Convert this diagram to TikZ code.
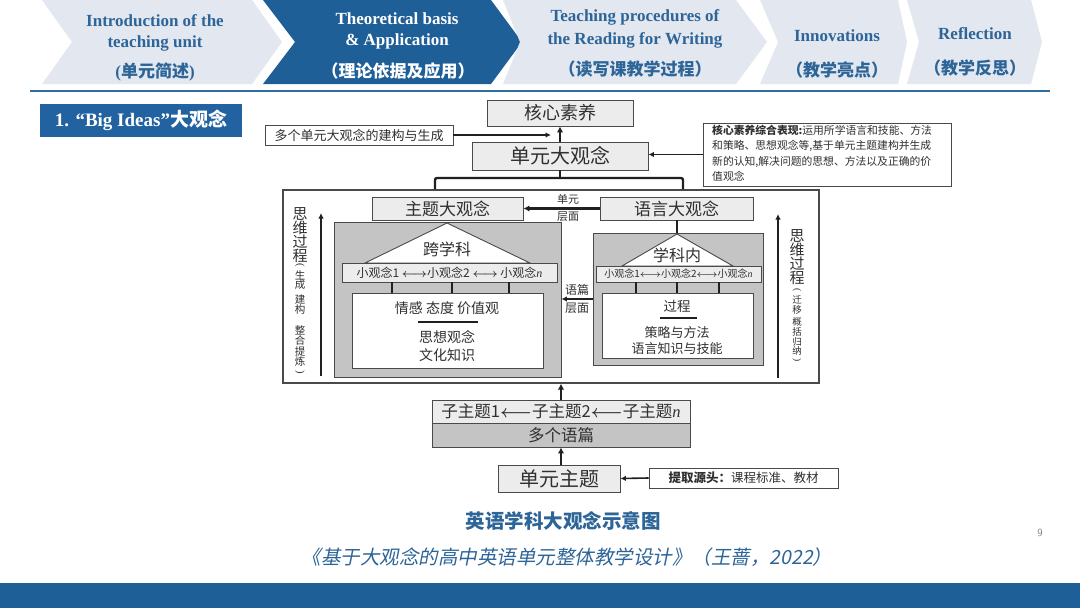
\documentclass[tikz,border=0pt]{standalone}
\usepackage{amsmath}
\usepackage{fontspec}
\setmainfont{Liberation Serif}
\newfontfamily\cjk{Noto Sans CJK SC}
\newfontfamily\cjkit{Noto Sans CJK SC}[FakeSlant=0.2]
\usetikzlibrary{arrows.meta}
\definecolor{hdrlight}{HTML}{E3E7EF}
\definecolor{hdrdark}{HTML}{1F5F98}
\definecolor{hdrtext}{HTML}{2D6598}
\definecolor{rulecol}{HTML}{2F6CA0}
\definecolor{barblue}{HTML}{1F5F98}
\definecolor{lblue}{HTML}{2262A0}
\definecolor{bord}{HTML}{4A4A4A}
\definecolor{lfill}{HTML}{ECECEC}
\definecolor{gfill}{HTML}{C4C4C4}
\definecolor{txt}{HTML}{303030}
\definecolor{dk}{HTML}{202020}
\newcommand\fsz[2]{\fontsize{#1pt}{#2pt}\selectfont}
\newcommand\chev[5]{\fill[#5] (#1,0) -- (#3,0) -- ({#3+#4},42) -- (#3,84) -- (#1,84) -- ({#1+#2},42) -- cycle;}
\tikzset{
  lbox/.style={draw=bord, fill=lfill, line width=0.9pt, inner sep=0pt, text=txt},
  gbox/.style={draw=bord, fill=gfill, line width=0.9pt, inner sep=0pt, text=txt},
  wbox/.style={draw=bord, fill=white, line width=0.9pt, inner sep=0pt, text=txt},
  arr/.style={draw=dk, line width=2.2pt, -{Latex[length=6pt,width=6.5pt]}},
  thinarr/.style={draw=dk, line width=1.6pt, -{Latex[length=5.5pt,width=5.5pt]}},
  conn/.style={draw=dk, line width=1.3pt},
  lbl/.style={inner sep=0pt, text=txt},
  hlight/.style={inner sep=0pt, text=hdrtext, font=\fsz{17}{22}\bfseries, align=center},
  hdark/.style={inner sep=0pt, text=white, font=\fsz{17}{22}\bfseries, align=center},
  vbig/.style={inner sep=0pt, text=txt, font=\fsz{15}{15}\cjk},
  vsmall/.style={inner sep=0pt, text=txt, font=\fsz{10.5}{10.5}\cjk},
}
\begin{document}
\begin{tikzpicture}[x=1pt,y=-1pt]
\useasboundingbox (0,0) rectangle (1080,608);
\fill[white] (0,0) rectangle (1080,608);
% ---------- header ----------
\chev{42}{30}{252}{30}{hdrlight}
\chev{263}{32}{491}{31}{hdrdark}
\chev{503}{17}{736}{31}{hdrlight}
\chev{760}{18}{898}{9}{hdrlight}
\chev{907}{12}{1031}{11}{hdrlight}
\node[hlight] (h1a) at (155,21) {Introduction of the};
\node[hlight] (h1b) at (155,43) {teaching unit};
\node[hlight] (h1c) at (155,72) {(\cjk 单元简述\rmfamily)};
\node[hdark] (h2a) at (397,19) {Theoretical basis};
\node[hdark] (h2b) at (397,41) {\& Application};
\node[hdark] (h2c) at (398,71) {\cjk （理论依据及应用）};
\node[hlight] (h3a) at (635,17) {Teaching procedures of};
\node[hlight] (h3b) at (635,40) {the Reading for Writing};
\node[hlight] (h3c) at (635,69) {\cjk （读写课教学过程）};
\node[hlight] (h4a) at (837,36) {Innovations};
\node[hlight] (h4b) at (837,70) {\cjk （教学亮点）};
\node[hlight] (h5a) at (975,34) {Reflection};
\node[hlight] (h5b) at (975,68) {\cjk （教学反思）};
\draw[rulecol, line width=2.5pt] (30,91) -- (1050,91);
% ---------- section label ----------
\node[fill=lblue, minimum width=202, minimum height=33, inner sep=0pt, text=white, font=\fsz{19}{22}\bfseries] (bigideas) at (141,120.5) {1. “Big Ideas”{\cjk 大观念}};
% ---------- top part of diagram ----------
\node[lbox, minimum width=146, minimum height=26, font=\fsz{18}{20}\cjk] (hxsy) at (560,113) {核心素养};
\node[wbox, minimum width=188, minimum height=20, font=\fsz{13}{15}\cjk] (dyg) at (359,135) {多个单元大观念的建构与生成};
\node[lbox, minimum width=176, minimum height=28, font=\fsz{20}{22}\cjk] (dydgn) at (560,156) {单元大观念};
\node[wbox, minimum width=248, minimum height=63] (info) at (827,154.5) {};
\node[lbl, anchor=north west, align=left, font=\fsz{10.8}{15.3}\cjk] (infotxt) at (712,125) {{\bfseries 核心素养综合表现:}运用所学语言和技能、方法\\和策略、思想观念等,基于单元主题建构并生成\\新的认知,解决问题的思想、方法以及正确的价\\值观念};
\coordinate (dygend) at (551,135);
\draw[thinarr] (dyg.east) -- (dygend);
\draw[arr] (dydgn.north) -- (hxsy.south);
\draw[thinarr] (info.west) -- (info.west -| dydgn.east);
% ---------- outer box ----------
\node[draw=bord, fill=white, line width=1.3pt, minimum width=536, minimum height=193, inner sep=0pt] (outer) at (551,286.5) {};
\coordinate (bl) at (435,178);
\coordinate (br) at (683,178);
\draw[dk, line width=2.4pt] (dydgn.south) -- (dydgn.south |- bl);
\draw[dk, line width=2.4pt, rounded corners=2pt] (bl |- outer.north) -- (bl) -- (br) -- (br |- outer.north);
% ---------- left (主题) ----------
\node[lbox, minimum width=151, minimum height=23, font=\fsz{17}{19}\cjk] (ztd) at (447.5,208.5) {主题大观念};
\node[gbox, minimum width=227, minimum height=155] (lgray) at (447.5,299.5) {};
\coordinate (lta) at (447,223);
\coordinate (ltb) at (365,263);
\coordinate (ltc) at (530,263);
\draw[bord, fill=white, line width=0.9pt] (lta) -- (ltb) -- (ltc) -- cycle;
\node[lbl, font=\fsz{16}{18}\cjk] (kxk) at (447,249) {跨学科};
\node[lbox, minimum width=215, minimum height=19, font=\fsz{12}{14}\cjk] (lbar) at (449.5,272.5) {小观念1 $\boldsymbol{\longleftrightarrow}$小观念2 $\boldsymbol{\longleftrightarrow}$ 小观念{\rmfamily\itshape n}};
\node[wbox, minimum width=191, minimum height=75] (lwhite) at (447.5,330.5) {};
\foreach \xx in {392,452,509} \draw[conn] (lbar.south -| \xx,0) -- (lwhite.north -| \xx,0);
\node[lbl, font=\fsz{14}{16}\cjk] (lw1) at (447,308) {情感 态度 价值观};
\draw[dk, line width=1.5pt] (418,322) -- (478,322);
\node[lbl, font=\fsz{14}{16}\cjk] (lw2) at (447,337) {思想观念};
\node[lbl, font=\fsz{14}{16}\cjk] (lw3) at (447,355) {文化知识};
% ---------- right (语言) ----------
\node[lbox, minimum width=153, minimum height=23, font=\fsz{17}{19}\cjk] (yyd) at (676.5,208.5) {语言大观念};
\node[gbox, minimum width=170, minimum height=132] (rgray) at (678,299) {};
\draw[conn] (yyd.south -| 677,0) -- (rgray.north -| 677,0);
\coordinate (rta) at (677,234);
\coordinate (rtb) at (622,266);
\coordinate (rtc) at (733,266);
\draw[bord, fill=white, line width=0.9pt] (rta) -- (rtb) -- (rtc) -- cycle;
\node[lbl, font=\fsz{16}{18}\cjk] (xkn) at (677,255) {学科内};
\node[lbox, minimum width=165, minimum height=16, font=\fsz{10}{12}\cjk] (rbar) at (678.5,274) {小观念1$\boldsymbol{\longleftrightarrow}$小观念2$\boldsymbol{\longleftrightarrow}$小观念{\rmfamily\itshape n}};
\node[wbox, minimum width=151, minimum height=65] (rwhite) at (677.5,325.5) {};
\foreach \xx in {636,677,719} \draw[conn] (rbar.south -| \xx,0) -- (rwhite.north -| \xx,0);
\node[lbl, font=\fsz{13.5}{15}\cjk] (rw1) at (677,306) {过程};
\draw[dk, line width=1.5pt] (660,318) -- (697,318);
\node[lbl, font=\fsz{13}{15}\cjk] (rw2) at (677,333) {策略与方法};
\node[lbl, font=\fsz{13}{15}\cjk] (rw3) at (677,349) {语言知识与技能};
% ---------- arrows between columns ----------
\draw[arr] (yyd.west) -- (ztd.east);
\node[lbl, font=\fsz{11}{12}\cjk] (dy1) at (568,199) {单元};
\node[lbl, font=\fsz{11}{12}\cjk] (dy2) at (568,217) {层面};
\coordinate (yp) at (577,299);
\draw[thinarr] (rgray.west |- yp) -- (lgray.east |- yp);
\node[lbl, font=\fsz{12}{13}\cjk] (yp1) at (577,290) {语篇};
\node[lbl, font=\fsz{12}{13}\cjk] (yp2) at (577,308) {层面};
% ---------- vertical side texts ----------
\coordinate (la1) at (321,376);
\coordinate (la2) at (321,213);
\draw[thinarr] (la1) -- (la2);
\coordinate (ra1) at (778,378);
\coordinate (ra2) at (778,214);
\draw[thinarr] (ra1) -- (ra2);
\foreach \ch/\yy in {思/214,维/228,过/242,程/256} \node[vbig] (lv\yy) at (300,\yy) {\ch};
\node[vsmall, rotate=-90] (lpo) at (300,265) {\rmfamily (};
\foreach \ch/\yy in {生/275,成/285,建/300,构/310,整/330,合/340,提/352,炼/362} \node[vsmall] (ls\yy) at (300,\yy) {\ch};
\node[vsmall, rotate=-90] (lpc) at (300,372) {\rmfamily )};
\foreach \ch/\yy in {思/236,维/250,过/264,程/278} \node[vbig] (rv\yy) at (797,\yy) {\ch};
\node[vsmall, font=\fsz{9.5}{9.5}, rotate=-90] (rpo) at (797,290) {\rmfamily (};
\foreach \ch/\yy in {迁/300,移/310,概/322,括/332,归/342,纳/351} \node[vsmall, font=\fsz{9.5}{9.5}\cjk] (rs\yy) at (797,\yy) {\ch};
\node[vsmall, font=\fsz{9.5}{9.5}, rotate=-90] (rpc) at (797,360) {\rmfamily )};
% ---------- bottom part ----------
\node[lbox, minimum width=258, minimum height=23, font=\fsz{16.5}{18}\cjk] (zzt) at (561,411.5) {子主题1$\boldsymbol{\longleftarrow}$子主题2$\boldsymbol{\longleftarrow}$子主题{\rmfamily\itshape n}};
\node[gbox, minimum width=258, minimum height=24, font=\fsz{16.5}{18}\cjk] (dgyp) at (561,435) {多个语篇};
\node[lbox, minimum width=122, minimum height=27, font=\fsz{20}{22}\cjk] (dyzt) at (559,478.5) {单元主题};
\node[wbox, minimum width=189, minimum height=20, font=\fsz{12.5}{14}\cjk] (tqyt) at (743.5,478) {{\bfseries 提取源头：}课程标准、教材};
\draw[arr] (zzt.north -| 561,0) -- (outer.south -| 561,0);
\draw[arr] (dyzt.north -| 561,0) -- (dgyp.south -| 561,0);
\draw[thinarr] (tqyt.west) -- (dyzt.east);
% ---------- captions ----------
\node[inner sep=0pt, text=hdrtext, font=\fsz{19.5}{22}\cjk\bfseries] (cap1) at (563,521) {英语学科大观念示意图};
\node[inner sep=0pt, text=hdrtext, font=\fsz{19.5}{22}\cjkit] (cap2) at (567,557) {《基于大观念的高中英语单元整体教学设计》（王蔷，2022）};
\node[inner sep=0pt, text=gray, font=\fsz{11}{12}\sffamily] (pnum) at (1040,533) {9};
\fill[barblue] (0,583) rectangle (1080,608);
\end{tikzpicture}
\end{document}
